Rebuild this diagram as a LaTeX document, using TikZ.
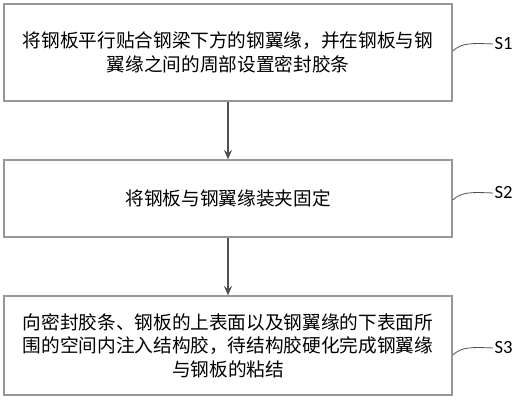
\documentclass[tikz,border=0pt]{standalone}
\usepackage{fontspec}
\setmainfont{Noto Sans CJK SC}
\newfontfamily\tagfont{Carlito}
\usetikzlibrary{arrows.meta}
\definecolor{boxgray}{RGB}{150,150,150}
\definecolor{linegray}{RGB}{80,80,80}
\tikzset{
  stepbox/.style={rectangle, draw=boxgray, line width=0.9pt, minimum width=336pt,
    inner sep=0pt, align=center, font=\fontsize{14}{17.5}\selectfont},
  steptag/.style={anchor=west, inner sep=1pt, font=\tagfont\fontsize{14}{16}\selectfont},
  tagline/.style={draw=linegray, line width=0.6pt}
}

\begin{document}
\begin{tikzpicture}[x=0.75pt, y=-0.75pt]
    \useasboundingbox (0,0) rectangle (518,400);
    \node (S1) [stepbox, minimum height=72.75pt] at (228, 52.5)
        {将钢板平行贴合钢梁下方的钢翼缘，并在钢板与钢\\翼缘之间的周部设置密封胶条};
    \node (S2) [stepbox, minimum height=57.75pt] at (228, 198.5) {将钢板与钢翼缘装夹固定};
    \node (S3) [stepbox, minimum height=74.25pt] at (228, 345.5)
        {向密封胶条、钢板的上表面以及钢翼缘的下表面所\\围的空间内注入结构胶，待结构胶硬化完成钢翼缘\\与钢板的粘结};
    \draw [-{Stealth[length=7pt, width=6pt]}, draw=linegray, fill=linegray, line width=1pt] (S1) -- (S2);
    \draw [-{Stealth[length=7pt, width=6pt]}, draw=linegray, fill=linegray, line width=1pt] (S2) -- (S3);
    % step tags
    \node (T1) [steptag] at (493, 44) {S1};
    \node (T2) [steptag] at (493, 193) {S2};
    \node (T3) [steptag] at (493, 348) {S3};
    \draw [tagline] (S1.east |- 0,51) .. controls (462,43) and (470,43) .. (T1.west);
    \draw [tagline] (S2.east |- 0,200) .. controls (462,192) and (470,192) .. (T2.west);
    \draw [tagline] (S3.east |- 0,355) .. controls (462,347) and (470,347) .. (T3.west);
\end{tikzpicture}
\end{document}
